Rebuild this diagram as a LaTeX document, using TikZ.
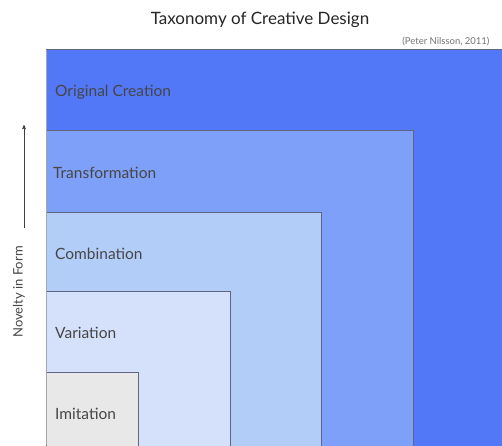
\documentclass[tikz,border=0pt]{standalone}
\usepackage{fontspec}
\setmainfont{Lato}
\usetikzlibrary{arrows}
\usepackage{xcolor}

\definecolor{creation}{RGB}{82,119,247}
\definecolor{transform}{RGB}{127,160,248}
\definecolor{combine}{RGB}{179,205,249}
\definecolor{vary}{RGB}{213,224,251}
\definecolor{imitate}{RGB}{232,232,232}
\definecolor{edgeline}{RGB}{95,102,130}
\definecolor{labeltext}{RGB}{70,70,70}

\tikzset{
  levelbox/.style={draw=edgeline, line width=1pt},
  levellabel/.style={anchor=west, inner sep=0pt, text=labeltext, font=\fontsize{15.5}{15.5}\selectfont},
}

\begin{document}
\begin{tikzpicture}[x=1pt, y=1pt]
\useasboundingbox (0,0) rectangle (502,445);
\fill[white] (0,0) rectangle (502,445);
\begin{scope}
\clip (0,0) rectangle (502,445);
% nested levels, widest first
\foreach \name/\right/\top/\col/\txt/\lx in {
    creation/520/395/creation/Original Creation/55,
    transform/413/314/transform/Transformation/53,
    combine/321/233/combine/Combination/55,
    vary/230/154/vary/Variation/55,
    imitate/138/73/imitate/Imitation/55} {
  \draw[levelbox, fill=\col] (46,-5) rectangle (\right,\top);
  \node[levellabel] (\name) at (\lx,{\top-42}) {\txt};
}
\draw[gray!70, line width=1pt] (46,0)--(46,395);
\end{scope}

\node[font=\fontsize{17}{17}\selectfont, text=black!85] (title) at (260,425) {Taxonomy of Creative Design};
\node[anchor=east, font=\fontsize{9.5}{9.5}\selectfont, text=black!55] (source) at (493,403) {(Peter Nilsson, 2011)};

% axis on the left
\node[rotate=90, text=labeltext, font=\fontsize{13}{13}\selectfont] (axis) at (19,153) {Novelty in Form};
\coordinate (axisfoot) at (24,217);
\coordinate (axishead) at (24,320);
\draw[black!75, semithick, ->, >=stealth'] (axisfoot)--(axishead);
\end{tikzpicture}
\end{document}
